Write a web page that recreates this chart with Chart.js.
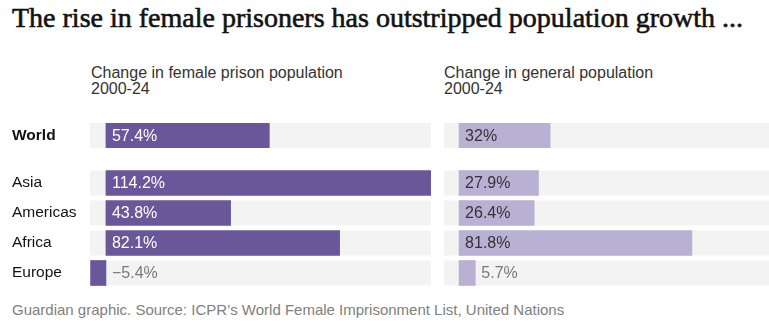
<!DOCTYPE html>
<html>
<head>
<meta charset="utf-8">
<script src="https://cdn.jsdelivr.net/npm/chart.js@4"></script>
<style>
  body { margin: 0; width: 769px; height: 322px; background: #fff; position: relative; overflow: hidden;
         font-family: 'Liberation Sans', Arial, sans-serif; color: #121212; }
  .title { position: absolute; left: 12px; top: 2px; font-family: 'Liberation Serif', serif; font-weight: normal;
           font-size: 28px; line-height: 32px; white-space: nowrap; color: #121212;
           -webkit-text-stroke: 0.6px #121212; }
  .sub { position: absolute; top: 65px; font-size: 16px; line-height: 16px; color: #333; white-space: nowrap; }
  .foot { position: absolute; left: 12px; top: 301px; font-size: 15px; color: #808080; white-space: nowrap; }
  canvas { position: absolute; }
</style>
</head>
<body>
<div class="title">The rise in female prisoners has outstripped population growth ...</div>
<div class="sub" style="left:91px">Change in female prison population<br>2000-24</div>
<div class="sub" style="left:444px">Change in general population<br>2000-24</div>

<canvas id="prisonWorld" width="431" height="25" style="left:0;top:123px"></canvas>
<canvas id="prisonRegions" width="431" height="120" style="left:0;top:168px"></canvas>
<canvas id="popWorld" width="325" height="25" style="left:444px;top:123px"></canvas>
<canvas id="popRegions" width="325" height="120" style="left:444px;top:168px"></canvas>

<div class="foot">Guardian graphic. Source: ICPR’s World Female Imprisonment List, United Nations</div>

<script>
// data
const worldLabel = ['World'];
const regions = ['Asia', 'Americas', 'Africa', 'Europe'];
const prisonWorldVals = [57.4];
const prisonRegionVals = [114.2, 43.8, 82.1, -5.4];
const popWorldVals = [32];
const popRegionVals = [27.9, 26.4, 81.8, 5.7];

// axis limits (same px per % in both panels)
const prisonRange = [-5.6, 114.2];
const popRange = [-5.3, 108.9];

const darkPurple = '#69579a';
const lightPurple = '#b9b1d4';
const track = '#f3f3f3';

function fmt(v) {
  return (v < 0 ? '\u2212' : '') + Math.abs(v) + '%';
}

// grey row behind each bar
const trackPlugin = {
  id: 'track',
  beforeDatasetsDraw(chart) {
    const ctx = chart.ctx, area = chart.chartArea;
    ctx.save();
    ctx.fillStyle = track;
    chart.getDatasetMeta(0).data.forEach(bar => {
      ctx.fillRect(area.left, bar.y - bar.height / 2, area.right - area.left, bar.height);
    });
    ctx.restore();
  }
};

// value labels
const labelPlugin = {
  id: 'valueLabels',
  afterDatasetsDraw(chart, args, opts) {
    const ctx = chart.ctx;
    const vals = chart.data.datasets[0].data;
    const zero = chart.scales.x.getPixelForValue(0);
    ctx.save();
    ctx.font = '16px "Liberation Sans", Arial, sans-serif';
    ctx.textBaseline = 'middle';
    ctx.textAlign = 'left';
    chart.getDatasetMeta(0).data.forEach((bar, i) => {
      const v = vals[i];
      const txt = fmt(v);
      const w = ctx.measureText(txt).width;
      if (v > 0 && bar.x - zero > w + 12) {
        ctx.fillStyle = opts.inside;
        ctx.fillText(txt, zero + 6, bar.y + 1);
      } else {
        ctx.fillStyle = '#7a7a7a';
        ctx.fillText(txt, Math.max(bar.x, zero) + 6, bar.y + 1);
      }
    });
    ctx.restore();
  }
};

function makeChart(id, labels, values, range, color, insideText, showLabels) {
  return new Chart(document.getElementById(id), {
    type: 'bar',
    data: {
      labels: labels,
      datasets: [{
        data: values,
        backgroundColor: color,
        borderWidth: 0,
        barThickness: 25
      }]
    },
    plugins: [trackPlugin, labelPlugin],
    options: {
      indexAxis: 'y',
      responsive: false,
      animation: false,
      devicePixelRatio: 1,
      layout: { padding: { left: showLabels ? 12 : 0, right: 0, top: 0, bottom: 0 } },
      plugins: {
        legend: { display: false },
        tooltip: { enabled: false },
        valueLabels: { inside: insideText }
      },
      scales: {
        x: { type: 'linear', min: range[0], max: range[1], display: false },
        y: {
          display: showLabels,
          grid: { display: false },
          border: { display: false },
          afterFit: s => {
            // fixed label column, no extra room above/below for the labels
            s.width = showLabels ? 78 : 0;
            s.paddingTop = 0;
            s.paddingBottom = 0;
          },
          ticks: {
            crossAlign: 'far',
            color: '#121212',
            padding: 0,
            font: ctx => ({
              family: '"Liberation Sans", Arial, sans-serif',
              size: 15.5,
              weight: labels[ctx.index] === 'World' ? 'bold' : 'normal'
            })
          }
        }
      }
    }
  });
}

makeChart('prisonWorld', worldLabel, prisonWorldVals, prisonRange, darkPurple, '#ffffff', true);
makeChart('prisonRegions', regions, prisonRegionVals, prisonRange, darkPurple, '#ffffff', true);
makeChart('popWorld', worldLabel, popWorldVals, popRange, lightPurple, '#333333', false);
makeChart('popRegions', regions, popRegionVals, popRange, lightPurple, '#333333', false);
</script>
</body>
</html>
